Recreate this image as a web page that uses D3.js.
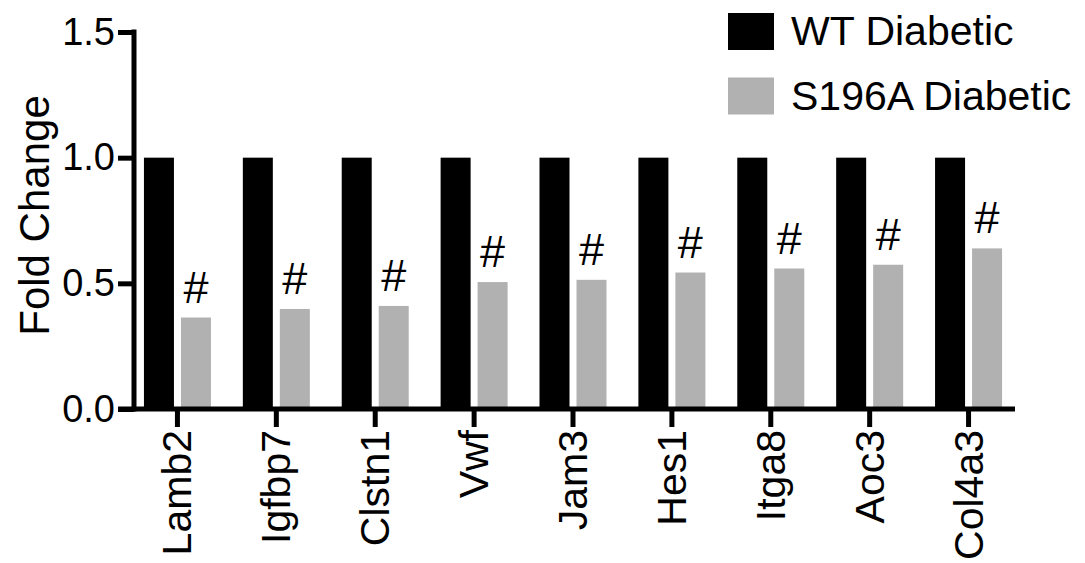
<!DOCTYPE html>
<html>
<head>
<meta charset="utf-8">
<script src="https://cdn.jsdelivr.net/npm/d3@7"></script>
<style>
  body { margin: 0; background: #fff; }
  svg { display: block; font-family: "Liberation Sans", Arial, Helvetica, sans-serif; }
</style>
</head>
<body>
<svg id="chart" width="1085" height="563"></svg>
<script>
// Data
const genes = ["Lamb2", "Igfbp7", "Clstn1", "Vwf", "Jam3", "Hes1", "Itga8", "Aoc3", "Col4a3"];
const seriesNames = ["WT Diabetic", "S196A Diabetic"];
const seriesColors = ["#000000", "#b1b1b1"];
const wtValues = [1, 1, 1, 1, 1, 1, 1, 1, 1];
const s196aValues = [0.364, 0.398, 0.41, 0.505, 0.514, 0.543, 0.559, 0.574, 0.639];
const yTicks = [0, 0.5, 1.0, 1.5];
const sigMark = "#";

const svg = d3.select("#chart");

// Plot area
const plotLeft = 134, plotBottom = 409, plotTop = 32;
const bandLeft = 128, bandRight = 1018, axisRight = 1015;

const x = d3.scaleBand()
  .domain(genes)
  .range([bandLeft, bandRight]);

const center = g => x(g) + x.bandwidth() / 2;

// two bars per gene, 30px each with a 7px gap
const xInner = d3.scaleBand()
  .domain(seriesNames)
  .range([-33.5, 33.5])
  .paddingInner(7 / 37);

const y = d3.scaleLinear()
  .domain([0, 1.5])
  .range([plotBottom, plotTop]);

const rows = genes.map((g, i) => ({ gene: g, values: [wtValues[i], s196aValues[i]] }));

// Bars
const groups = svg.append("g")
  .selectAll("g")
  .data(rows)
  .join("g")
  .attr("transform", d => `translate(${center(d.gene)},0)`);

groups.selectAll("rect")
  .data(d => d.values.map((v, j) => ({ series: seriesNames[j], value: v, color: seriesColors[j] })))
  .join("rect")
  .attr("x", d => xInner(d.series))
  .attr("width", xInner.bandwidth())
  .attr("y", d => y(d.value))
  .attr("height", d => y(0) - y(d.value))
  .attr("fill", d => d.color);

// Significance marks over the S196A bars
groups.append("text")
  .attr("x", xInner(seriesNames[1]) + xInner.bandwidth() / 2)
  .attr("y", d => y(d.values[1]) - 15)
  .attr("text-anchor", "middle")
  .style("font-size", "45px")
  .text(sigMark);

// Y axis
const yAxis = svg.append("g")
  .attr("transform", `translate(${plotLeft},0)`)
  .call(d3.axisLeft(y).tickValues(yTicks).tickFormat(d3.format(".1f")).tickSize(16).tickPadding(3));

yAxis.select(".domain").remove();
yAxis.append("line")
  .attr("x1", 0).attr("x2", 0)
  .attr("y1", plotTop - 2.5).attr("y2", plotBottom + 2.5)
  .attr("stroke", "#000")
  .attr("stroke-width", 5);
yAxis.selectAll(".tick line").attr("stroke-width", 5).attr("x2", -16);
yAxis.selectAll(".tick text")
  .style("font-size", "38px")
  .attr("fill", "#000");

// X axis
const xAxis = svg.append("g")
  .attr("transform", `translate(0,${plotBottom})`)
  .call(d3.axisBottom(x).tickSize(18).tickPadding(4));

xAxis.select(".domain").remove();
xAxis.append("line")
  .attr("x1", plotLeft - 16).attr("x2", axisRight)
  .attr("y1", 0).attr("y2", 0)
  .attr("stroke", "#000")
  .attr("stroke-width", 5);
xAxis.selectAll(".tick line").attr("stroke-width", 5);
xAxis.selectAll(".tick text")
  .style("font-size", "41px")
  .attr("fill", "#000")
  .attr("text-anchor", "end")
  .attr("dy", null)
  .attr("transform", "rotate(-90)")
  .attr("x", -21)
  .attr("y", 14);

// Y axis title
svg.append("text")
  .attr("transform", `translate(49,${(95 + 336) / 2}) rotate(-90)`)
  .attr("text-anchor", "middle")
  .style("font-size", "42px")
  .text("Fold Change");

// Legend
const legend = svg.append("g")
  .selectAll("g")
  .data(seriesNames)
  .join("g")
  .attr("transform", (d, i) => `translate(728,${13 + i * 64.5})`);

legend.append("rect")
  .attr("width", 46)
  .attr("height", 37)
  .attr("fill", (d, i) => seriesColors[i]);

legend.append("text")
  .attr("x", 63)
  .attr("y", 32)
  .style("font-size", "41px")
  .text(d => d);
</script>
</body>
</html>
